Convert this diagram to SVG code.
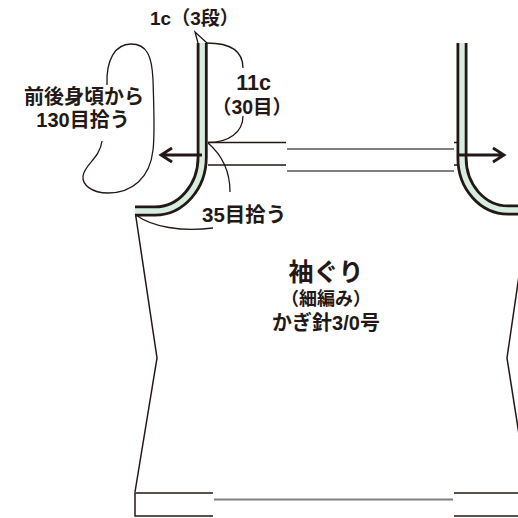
<svg xmlns="http://www.w3.org/2000/svg" width="518" height="518" viewBox="0 0 518 518">
<style>
.t{font-family:"Liberation Sans","Noto Sans CJK JP",sans-serif;font-weight:bold;fill:#231815}
.thin{fill:none;stroke:#231815;stroke-width:1.3}
.body{fill:none;stroke:#231815;stroke-width:1.5}
.gray{fill:none;stroke:#808080;stroke-width:2}
.strapK{fill:none;stroke:#231815;stroke-width:11}
.strapG{fill:none;stroke:#d6ede0;stroke-width:5.4}
.arrow{fill:none;stroke:#231815;stroke-width:2.8}
</style>
<rect width="518" height="518" fill="#ffffff"/>
<g id="body">
<path class="body" d="M135.5,214 L157,358 L135,492"/>
<path class="body" d="M528,214 L507,358 L528,492"/>
<path class="body" d="M213,493 H135 V516 H213"/>
<path class="body" d="M454,493 H520 M454,516 H520"/>
<path class="gray" d="M214,499.5 H453"/>
<path class="thin" d="M208,142.5 H286 M208,165 H286 M454,142.5 H458 M454,165 H458"/>
<path class="gray" d="M287,149 H454 M287,171 H454"/>
</g>
<g id="strap-left">
<path class="strapK" d="M202.2,43 V157 A47.2,54 0 0 1 155,211 H135"/>
<path class="strapG" d="M202.2,43 V157 A47.2,54 0 0 1 155,211 H135"/>
</g>
<g id="strap-right">
<path class="strapK" d="M462,43 V158 A46,52 0 0 0 508,210 H520"/>
<path class="strapG" d="M462,43 V158 A46,52 0 0 0 508,210 H520"/>
</g>
<g id="connectors">
<path class="arrow" d="M202,155 H161 M172,148 L161,155 L172,162"/>
<path class="arrow" d="M458,155 H504 M493,148 L504,155 L493,162"/>
<path class="thin" d="M198,43 L195,32 L207,43"/>
<path class="thin" d="M207,43 C228,43 243,50 243,68"/>
<path class="thin" d="M243,116 C243,132 229,142.5 208,142.5"/>
<path class="thin" d="M208,143 C222,155 230,170 230,192"/>
<path class="thin" d="M136,215 C152,227 182,232 213,228"/>
<path class="thin" d="M107,85 C106,60 115,44 131,44 C147,44 152,56 153,80 C154,110 155,135 153,150 C150,178 132,193 108,193 C92,193 82,185 83,176 C84,165 100,158 102,141"/>
</g>
<g id="label-1c">
<text class="t" x="150" y="24.5" font-size="19">1c（3段）</text>
</g>
<g id="label-11c">
<text class="t" x="253.5" y="90" font-size="21.5" text-anchor="middle">11c</text>
<text class="t" x="252" y="113.5" font-size="19.5" text-anchor="middle">（30目）</text>
</g>
<g id="label-130">
<text class="t" x="84" y="103.5" font-size="20" text-anchor="middle">前後身頃から</text>
<text class="t" x="83" y="127" font-size="20" text-anchor="middle">130目拾う</text>
</g>
<g id="label-35">
<text class="t" x="202" y="221.5" font-size="20.5">35目拾う</text>
</g>
<g id="label-center">
<text class="t" x="326" y="281" font-size="25" text-anchor="middle">袖ぐり</text>
<text class="t" x="326" y="305" font-size="18" text-anchor="middle">（細編み）</text>
<text class="t" x="326" y="330" font-size="20" text-anchor="middle">かぎ針3/0号</text>
</g>
</svg>
